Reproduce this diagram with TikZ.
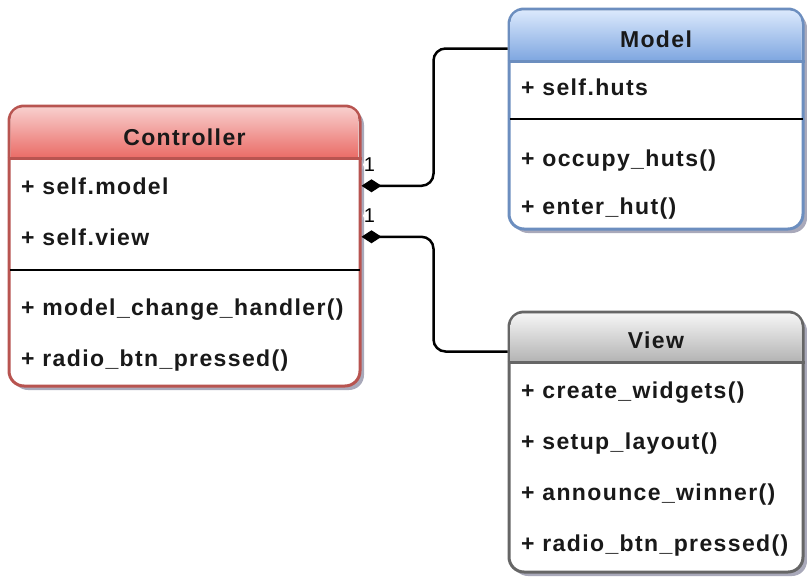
\documentclass[tikz,border=0pt]{standalone}
\usepackage{fontspec}
\setmainfont{Liberation Sans}[LetterSpace=6]
\usetikzlibrary{arrows.meta,shadows,calc}
\definecolor{ctrltop}{HTML}{F8CECC}
\definecolor{ctrlbot}{HTML}{EA6B66}
\definecolor{ctrlline}{HTML}{B85450}
\definecolor{modeltop}{HTML}{DAE8FC}
\definecolor{modelbot}{HTML}{7EA6E0}
\definecolor{modelline}{HTML}{6C8EBF}
\definecolor{viewtop}{HTML}{F5F5F5}
\definecolor{viewbot}{HTML}{B3B3B3}
\definecolor{viewline}{HTML}{666666}
\definecolor{shadowgrey}{HTML}{70708C}
\tikzset{
  classbox/.style={draw=#1, line width=3pt, rounded corners=15pt, fill=white, inner sep=0pt,
    drop shadow={shadow xshift=4pt, shadow yshift=-4pt, fill=shadowgrey, opacity=0.6}},
  header/.style 2 args={top color=#1, bottom color=#2},
  headline/.style={draw=#1, line width=3pt},
  row/.style={font=\fontsize{23}{28}\selectfont\bfseries, text=black!90, inner sep=0pt, anchor=base west},
  title/.style={row, anchor=base},
  sepline/.style={line width=1.5pt, shorten <=2pt, shorten >=2pt},
  mult/.style={font=\fontsize{20}{24}\selectfont, fill=white, inner sep=1pt, anchor=south west, yshift=12pt},
  assoc/.style={line width=2.5pt, rounded corners=12pt, {Diamond[length=20pt, width=13pt, sharp]}-}
}
\begin{document}
\begin{tikzpicture}[x=1pt, y=-1pt]
    \useasboundingbox (0,0) rectangle (807,582);

    % Controller class
    \node[classbox=ctrlline, minimum width=351pt, minimum height=280pt] (ctrl) at (184.5,246) {};
    \shade[header={ctrltop}{ctrlbot}] ([shift={(3pt,-53.5pt)}]ctrl.north west) [rounded corners=12pt]
        -- ([shift={(3pt,-3pt)}]ctrl.north west) -- ([shift={(-3pt,-3pt)}]ctrl.north east) [sharp corners]
        -- ([shift={(-3pt,-53.5pt)}]ctrl.north east) -- cycle;
    \draw[headline=ctrlline] ([yshift=-53.5pt]ctrl.north west) -- ([yshift=-53.5pt]ctrl.north east);
    \node[title] (ctrl-title) at (184.5,145) {Controller};
    \node[row] (ctrl-model) at (21,194) {+ self.model};
    \node[row] (ctrl-view) at (21,245) {+ self.view};
    \draw[sepline] ([yshift=-165.5pt]ctrl.north west) -- ([yshift=-165.5pt]ctrl.north east);
    \node[row] (ctrl-handler) at (21,315) {+ model\_change\_handler()};
    \node[row] (ctrl-radio) at (21,366) {+ radio\_btn\_pressed()};

    % Model class
    \node[classbox=modelline, minimum width=294pt, minimum height=220pt] (model) at (656,119) {};
    \shade[header={modeltop}{modelbot}] ([shift={(3pt,-53.5pt)}]model.north west) [rounded corners=12pt]
        -- ([shift={(3pt,-3pt)}]model.north west) -- ([shift={(-3pt,-3pt)}]model.north east) [sharp corners]
        -- ([shift={(-3pt,-53.5pt)}]model.north east) -- cycle;
    \draw[headline=modelline] ([yshift=-53.5pt]model.north west) -- ([yshift=-53.5pt]model.north east);
    \node[title] (model-title) at (656,47) {Model};
    \node[row] (model-huts) at (521,95) {+ self.huts};
    \draw[sepline] ([yshift=-111.5pt]model.north west) -- ([yshift=-111.5pt]model.north east);
    \node[row] (model-occupy) at (521,166) {+ occupy\_huts()};
    \node[row] (model-enter) at (521,214) {+ enter\_hut()};

    % View class
    \node[classbox=viewline, minimum width=294pt, minimum height=260pt] (view) at (656,442) {};
    \shade[header={viewtop}{viewbot}] ([shift={(3pt,-51.5pt)}]view.north west) [rounded corners=12pt]
        -- ([shift={(3pt,-3pt)}]view.north west) -- ([shift={(-3pt,-3pt)}]view.north east) [sharp corners]
        -- ([shift={(-3pt,-51.5pt)}]view.north east) -- cycle;
    \draw[headline=viewline] ([yshift=-51.5pt]view.north west) -- ([yshift=-51.5pt]view.north east);
    \node[title] (view-title) at (656,348) {View};
    \node[row] (view-widgets) at (521,398) {+ create\_widgets()};
    \node[row] (view-layout) at (521,449) {+ setup\_layout()};
    \node[row] (view-winner) at (521,500) {+ announce\_winner()};
    \node[row] (view-radio) at (521,551) {+ radio\_btn\_pressed()};

    % Composition links
    \coordinate (elbow1) at ($(ctrl.east |- ctrl-model)+(72,0)$);
    \coordinate (elbow2) at ($(ctrl.east |- ctrl-view)+(72,0)$);
    \draw[assoc] (ctrl.east |- ctrl-model) node[mult] (mult1) {1}
        -- (elbow1) |- ([yshift=-41pt]model.north west);
    \draw[assoc] (ctrl.east |- ctrl-view) node[mult] (mult2) {1}
        -- (elbow2) |- ([yshift=-41pt]view.north west);
\end{tikzpicture}
\end{document}
